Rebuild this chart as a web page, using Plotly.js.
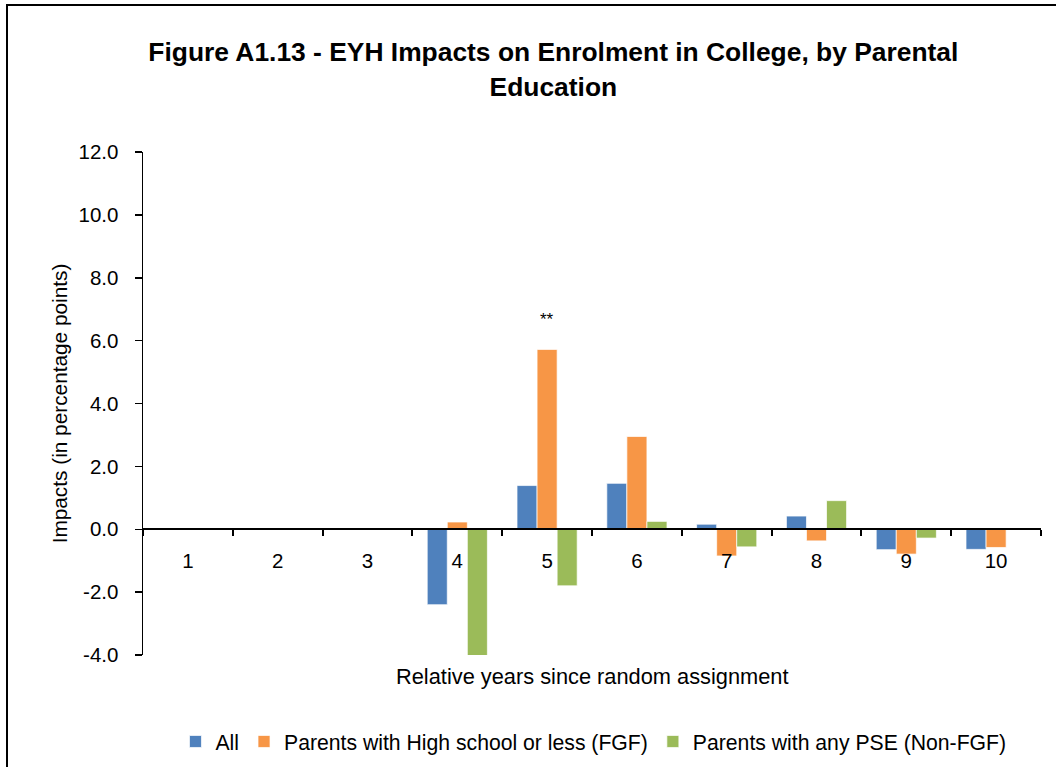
<!DOCTYPE html>
<html>
<head>
<meta charset="utf-8">
<script src="https://cdn.plot.ly/plotly-3.0.1.min.js"></script>
<style>
html,body{margin:0;padding:0;overflow:hidden;background:#fff;}
#chart{position:absolute;left:0;top:0;width:1056px;height:767px;}
#frame{position:absolute;left:6px;top:4px;width:1100px;height:900px;border-left:2px solid #000;border-top:2px solid #000;pointer-events:none;}
</style>
</head>
<body>
<div id="chart"></div>
<div id="frame"></div>
<script>
const years = ['1','2','3','4','5','6','7','8','9','10'];
const allVals = [null, null, null, -2.40, 1.39, 1.46, 0.16, 0.42, -0.65, -0.64];
const fgfVals = [null, null, null, 0.23, 5.72, 2.95, -0.85, -0.37, -0.79, -0.58];
const nonFgfVals = [null, null, null, -4.10, -1.80, 0.25, -0.56, 0.91, -0.28, null];
const seriesNames = ['All', 'Parents with High school or less (FGF)', 'Parents with any PSE (Non-FGF)'];
const seriesColors = ['#4F81BD', '#F79646', '#9BBB59'];
const yTickVals = [-4, -2, 0, 2, 4, 6, 8, 10, 12];
const yTickText = ['-4.0', '-2.0', '0.0', '2.0', '4.0', '6.0', '8.0', '10.0', '12.0'];
const sigYear = '5';
const sigLabel = '**';

const FONT = '"Liberation Sans", Arial, sans-serif';

const vals = [allVals, fgfVals, nonFgfVals];
const traces = vals.map((v, i) => ({
  type: 'bar',
  x: years,
  y: v,
  name: seriesNames[i],
  marker: {color: seriesColors[i], line: {color: 'rgba(255,255,255,0.7)', width: 1}},
  hoverinfo: 'x+y+name'
}));

const sigIdx = years.indexOf(sigYear);

const layout = {
  width: 1056,
  height: 767,
  paper_bgcolor: '#fff',
  plot_bgcolor: '#fff',
  margin: {l: 143, r: 15, t: 152, b: 112},
  barmode: 'group',
  bargap: 0.33,
  bargroupgap: 0,
  font: {family: FONT, color: '#000', size: 20},
  title: {
    text: '<b>Figure A1.13 - EYH Impacts on Enrolment in College, by Parental<br>Education</b>',
    font: {family: FONT, size: 26.4, color: '#000'},
    xref: 'container', x: 0.524, xanchor: 'center',
    yref: 'container', y: 0.92, yanchor: 'middle'
  },
  xaxis: {
    type: 'category',
    anchor: 'free',
    position: 0.25,
    showline: true, linecolor: '#000', linewidth: 2,
    ticks: 'outside', tickson: 'boundaries', ticklen: 6, tickcolor: '#000', tickwidth: 2,
    ticklabelstandoff: 13,
    showgrid: false, zeroline: false,
    tickfont: {family: FONT, size: 20.5, color: '#000'},
    fixedrange: true
  },
  yaxis: {
    range: [-4, 12],
    tickmode: 'array',
    tickvals: yTickVals,
    ticktext: yTickText,
    showline: true, linecolor: '#000', linewidth: 1.5,
    ticks: 'outside', ticklen: 7, tickcolor: '#000', tickwidth: 1.5,
    ticklabelstandoff: 12,
    showgrid: false, zeroline: false,
    tickfont: {family: FONT, size: 20.5, color: '#000'},
    title: {text: 'Impacts (in percentage points)', font: {family: FONT, size: 20.8, color: '#000'}, standoff: 5},
    fixedrange: true
  },
  showlegend: true,
  legend: {
    orientation: 'h',
    xref: 'container', x: 0.562, xanchor: 'center',
    yref: 'container', y: 0.033, yanchor: 'middle',
    font: {family: FONT, size: 21.2, color: '#000'},
    itemwidth: 30,
    tracegroupgap: 0
  },
  annotations: [
    {
      text: 'Relative years since random assignment',
      xref: 'paper', x: 0.501, xanchor: 'center',
      yref: 'paper', y: 0, yanchor: 'middle', yshift: -21,
      showarrow: false,
      font: {family: FONT, size: 21.8, color: '#000'}
    },
    {
      text: sigLabel,
      xref: 'x', x: sigIdx,
      yref: 'y', y: fgfVals[sigIdx], yanchor: 'bottom', yshift: 18,
      showarrow: false,
      font: {family: FONT, size: 17, color: '#000'}
    }
  ]
};

Plotly.newPlot('chart', traces, layout, {displayModeBar: false, staticPlot: true});
</script>
</body>
</html>
